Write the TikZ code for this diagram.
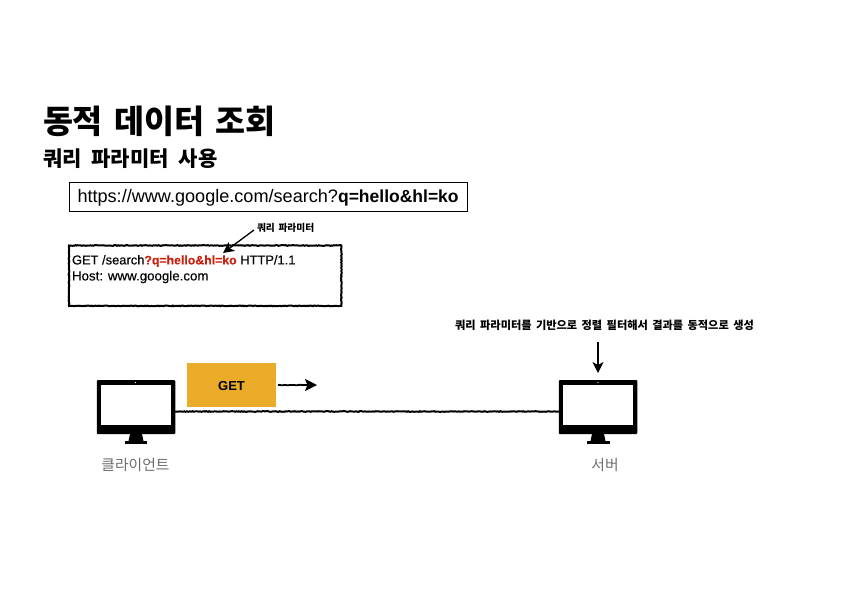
\documentclass[tikz,border=0pt]{standalone}
\usepackage{fontspec}
\setmainfont{Liberation Sans}
\newfontfamily\kr{Noto Sans CJK KR}
\newfontfamily\semi[FakeBold=0.25]{Liberation Sans}
\usetikzlibrary{arrows.meta,decorations.pathmorphing}
\definecolor{getfill}{HTML}{E9AB28}
\definecolor{redtxt}{HTML}{C8210F}
\definecolor{graytxt}{HTML}{6E6E6E}
\tikzset{
  x=1pt,y=-1pt,
  txt/.style={inner sep=0pt,outer sep=0pt,text=black},
  rough/.style={draw=black,line width=2pt,line cap=round,decorate,decoration={random steps,segment length=1.3pt,amplitude=.35pt}},
  arr/.style={draw=black,line width=1.3pt,-{Stealth[length=11pt,width=11pt,inset=3pt]}},
  body/.style={fill=black,draw=none,rounded corners=1pt,inner sep=0pt,minimum width=78.5pt,minimum height=54pt},
  screen/.style={fill=white,draw=none,inner sep=0pt,minimum width=70pt,minimum height=40pt},
  blk/.style={fill=black,draw=none},
  caplabel/.style={txt,text=graytxt,font=\kr\fontsize{14.8}{18}\selectfont},
}
\begin{document}
\begin{tikzpicture}
\useasboundingbox (0,0) rectangle (842,595);
\fill[white] (0,0) rectangle (842,595);
% titles
\node[txt,anchor=west,font=\kr\bfseries\fontsize{32.6}{40}\selectfont] (title) at (43,121.5) {\spaceskip=11.5pt 동적 데이터 조회};
\node[txt,anchor=west,font=\kr\bfseries\fontsize{21}{24}\selectfont] (sub) at (43,158.5) {\spaceskip=10pt 쿼리 파라미터 사용};
% url box
\node[draw=black,line width=1.4pt,inner sep=0pt,minimum width=397.5pt,minimum height=28.5pt,anchor=north west] (url) at (69,182) {};
\node[txt,anchor=west,font=\fontsize{18.1}{20}\selectfont] (urltxt) at (77.5,198) {https://www.google.com/search?\textbf{\fontsize{17.5}{20}\selectfont q=hello\&hl=ko}};
% request box
\node[inner sep=0pt,minimum width=272pt,minimum height=60pt,anchor=north west] (req) at (69,245.5) {};
\draw[rough] (req.north west) -- (req.north east) -- (req.south east) -- (req.south west) -- cycle;
\node[txt,anchor=west,font=\semi\fontsize{12.9}{15}\selectfont] (l1) at (72,261) {GET /search\textcolor{redtxt}{\bfseries\fontsize{12.3}{15}\selectfont ?q=hello\&hl=ko} HTTP/1.1};
\node[txt,anchor=west,font=\semi\fontsize{13.3}{15}\selectfont] (l2) at (72,277) {Host: www.google.com};
% param label
\node[txt,anchor=west,font=\kr\bfseries\fontsize{9.7}{11}\selectfont] (plab) at (257,228) {\spaceskip=3.7pt 쿼리 파라미터};
\coordinate (ptip) at (223,253);
\draw[arr] (254,230) -- (ptip);
% client
\node[body] (client) at (136,407) {};
\node[screen] (cs) at (136,405) {};
\node[fill=white,circle,inner sep=0pt,minimum size=1.2pt] (cc) at (135.5,382.5) {};
\fill[blk] (130,434) -- (142,434) -- (143.5,441) -- (128.5,441) -- cycle;
\fill[blk] (124.5,441) rectangle (147,444);
\node[caplabel] (clab) at (135.5,464.5) {클라이언트};
% server
\node[body] (server) at (598,407) {};
\node[screen] (ss) at (598,405) {};
\node[fill=white,circle,inner sep=0pt,minimum size=1.2pt] (sc) at (598,382.5) {};
\fill[blk] (592,434) -- (604,434) -- (605.5,441) -- (590.5,441) -- cycle;
\fill[blk] (587,441) rectangle (609.5,444);
\node[caplabel] (slab) at (605,464.5) {서버};
% connection
\draw[rough] (client.east |- 0,411.5) -- (server.west |- 0,411.5);
% GET
\node[fill=getfill,draw=none,inner sep=0pt,minimum width=89pt,minimum height=44pt,anchor=north west] (get) at (187,363) {};
\node[txt,font=\bfseries\fontsize{13}{15}\selectfont] (gett) at (231.5,386) {GET};
\coordinate (gets) at (278,385);
\coordinate (gete) at (317,385);
\draw[arr,line width=1.8pt,-{Stealth[length=12pt,width=12pt,inset=2.5pt]},decorate,decoration={random steps,segment length=1.6pt,amplitude=.3pt,post=lineto,post length=10pt}] (gets) -- (gete);
% server note
\node[txt,font=\kr\bfseries\fontsize{11.2}{12}\selectfont] (note) at (604.5,325.5) {\spaceskip=4.4pt 쿼리 파라미터를 기반으로 정렬 필터해서 결과를 동적으로 생성};
\coordinate (ns) at (598,342);
\coordinate (ne) at (598,373);
\draw[arr] (ns) -- (ne);
\end{tikzpicture}
\end{document}
